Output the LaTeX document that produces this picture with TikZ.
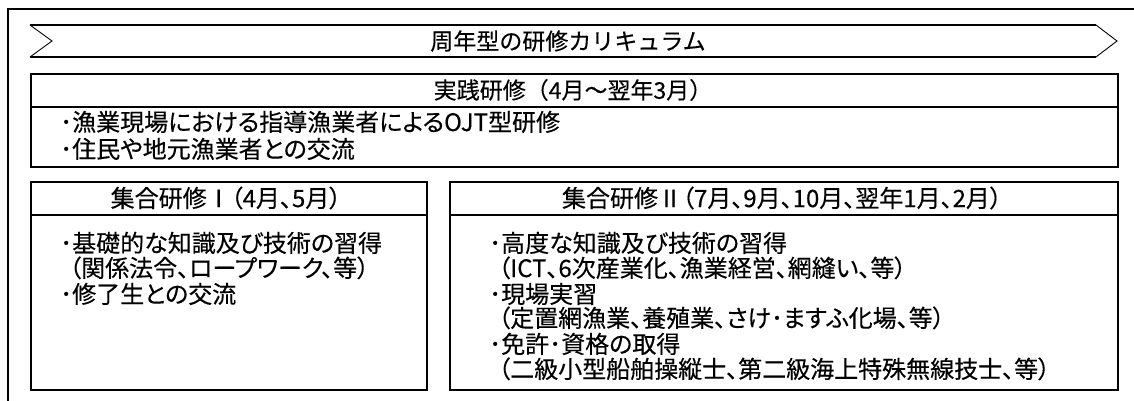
\documentclass[tikz,border=0pt]{standalone}
\usepackage{fontspec}
\newfontfamily\jp[RawFeature=+palt,FakeBold=0.3]{Noto Sans CJK JP}
\newfontfamily\jpfull[FakeBold=0.3]{Noto Sans CJK JP}
\begin{document}
\begin{tikzpicture}[x=1pt,y=1pt,
  frameline/.style={line width=2pt},
  boxframe/.style={draw, line width=1.8pt, inner sep=0pt, anchor=north west},
  sepline/.style={line width=1.3pt},
  thinline/.style={line width=0.9pt},
  head/.style={inner sep=0pt, font=\jp\fontsize{24}{28}\selectfont},
  widehead/.style={inner sep=0pt, font=\jpfull\fontsize{23}{27}\selectfont},
  item/.style={inner sep=0pt, anchor=base west, font=\jp\fontsize{24}{28}\selectfont}]
\useasboundingbox (0,0) rectangle (1134,-401);
% outer frame (cut off at right and bottom)
\draw[frameline] (8,-401) -- (8,-9) -- (1134,-9);
% chevron banner
\draw[thinline] (1096,-25) -- (1117,-41) -- (1096,-57);
\draw[thinline] (30,-25) -- (52,-41) -- (30,-57);
\draw[frameline] (30,-25) -- (1096,-25);
\draw[frameline] (30,-57) -- (1096,-57);
\node[widehead] (title) at (568,-41) {周年型の研修カリキュラム};
% practical training box
\node[boxframe, minimum width=1087, minimum height=93] (jissen) at (30,-73) {};
\draw[sepline] (30,-107) -- (1117,-107);
\node[widehead] (jissenhead) at (573,-90) {実践研修（4月～翌年3月）};
\node[item] (j1) at (60,-131) {･漁業現場における指導漁業者によるOJT型研修};
\node[item] (j2) at (60,-158) {･住民や地元漁業者との交流};
% group training I
\node[boxframe, minimum width=396, minimum height=208] (boxA) at (30,-181) {};
\draw[sepline] (30,-215) -- (426,-215);
\node[head] (headA) at (226,-198) {集合研修Ⅰ（4月、5月）};
\node[item] (a1) at (60,-252) {･基礎的な知識及び技術の習得};
\node[item] (a2) at (69,-277) {（関係法令、ロープワーク、等）};
\node[item] (a3) at (60,-303) {･修了生との交流};
% group training II
\node[boxframe, minimum width=668, minimum height=208] (boxB) at (449,-181) {};
\draw[sepline] (449,-215) -- (1117,-215);
\node[head] (headB) at (782,-198) {集合研修Ⅱ（7月、9月、10月、翌年1月、2月）};
\node[item] (b1) at (489,-252) {･高度な知識及び技術の習得};
\node[item] (b2) at (498,-277) {（ICT、6次産業化、漁業経営、網縫い、等）};
\node[item] (b3) at (489,-303) {･現場実習};
\node[item] (b4) at (498,-327) {（定置網漁業、養殖業、さけ･ますふ化場、等）};
\node[item] (b5) at (489,-353) {･免許･資格の取得};
\node[item] (b6) at (498,-378) {（二級小型船舶操縦士、第二級海上特殊無線技士、等）};
\end{tikzpicture}
\end{document}
